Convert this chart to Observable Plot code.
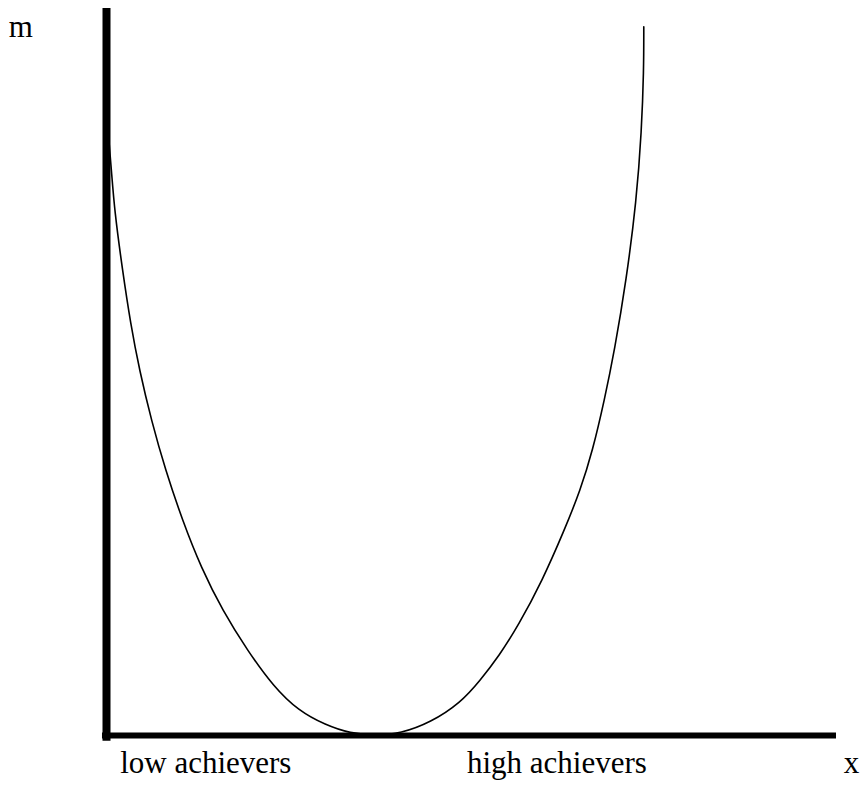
<!DOCTYPE html>
<html>
<head>
<meta charset="utf-8">
<script src="https://cdn.jsdelivr.net/npm/d3@7"></script>
<script src="https://cdn.jsdelivr.net/npm/@observablehq/plot@0.6"></script>
<style>
  html, body { margin: 0; padding: 0; background: #fff; }
  #chart { width: 862px; height: 790px; }
  #chart svg, #chart svg text { font-family: "Liberation Serif", "DejaVu Serif", serif !important; }
</style>
</head>
<body>
<div id="chart"></div>
<script>
// Curve (x: 0–100 along the horizontal axis, m: 0–100 up the vertical axis)
const curveX = [0, 0.27, 0.68, 1.10, 2.19, 3.29, 4.52, 6.16, 8.08, 10.4, 13.0, 15.9, 19.3, 22.9, 26.3, 30.0, 33.4, 36.8,
                40.3, 44.4, 48.5, 51.2, 53.8, 56.4, 59.7, 62.7, 64.9, 66.6, 68.2, 69.6, 71.2, 72.6, 73.3, 73.6, 73.6];
const curveM = [86.0, 82.5, 77.7, 72.2, 64.0, 56.7, 50.2, 43.3, 36.5, 29.6, 23.0, 17.2, 11.7, 6.7, 3.4, 1.44, 0.28, 0,
                0.28, 1.8, 4.5, 7.6, 11.0, 15.1, 21.3, 28.2, 33.7, 39.2, 46.1, 53.0, 62.6, 73.6, 83.2, 91.5, 97.5];

// Text
const groupLabels = ["low achievers", "high achievers"];
const groupTicks = [13.6, 61.7];
const yAxisLabel = "m";
const xAxisLabel = "x";

const curve = curveX.map((x, i) => ({x, m: curveM[i]}));
const groups = groupLabels.map((label, i) => ({label, x: groupTicks[i]}));

const font = "Liberation Serif, DejaVu Serif, serif";

const chart = Plot.plot({
  width: 862,
  height: 790,
  marginLeft: 106,
  marginRight: 26,
  marginTop: 8,
  marginBottom: 55,
  style: {fontFamily: font, fontSize: "31px", background: "#fff", color: "#000", overflow: "visible"},
  x: {domain: [0, 100], axis: null},
  y: {domain: [0, 100], axis: null},
  marks: [
    Plot.line(curve, {x: "x", y: "m", curve: "basis", stroke: "#000", strokeWidth: 1.6}),
    Plot.ruleX([0], {y1: -0.8, y2: 100, stroke: "#000", strokeWidth: 8}),
    Plot.ruleY([0], {x1: -0.55, x2: 100, stroke: "#000", strokeWidth: 6}),
    Plot.text(groups, {x: "x", y: 0, text: "label", dy: 28, fill: "#000", fontSize: 31}),
    Plot.text([yAxisLabel], {x: -13.4, y: 97.4, text: d => d, textAnchor: "start", fill: "#000", fontSize: 31}),
    Plot.text([xAxisLabel], {x: 101.0, y: 0, text: d => d, dy: 28, textAnchor: "start", fill: "#000", fontSize: 31})
  ]
});
d3.select(chart).attr("font-family", font)
  .selectAll("text").attr("font-family", font).style("font-family", font);
document.getElementById("chart").appendChild(chart);
</script>
</body>
</html>
